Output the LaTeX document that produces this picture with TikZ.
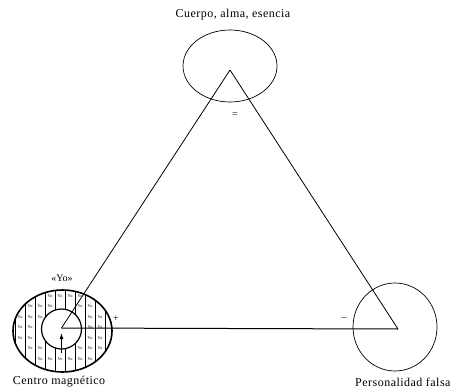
\documentclass[tikz,border=0pt]{standalone}
\usepackage{fontspec}
\setmainfont{Liberation Serif}
\newfontfamily\labfont[LetterSpace=4]{Liberation Serif}
\usetikzlibrary{arrows.meta,shapes.geometric}
\begin{document}
\begin{tikzpicture}[x=1pt,y=-1pt,
  lab/.style={font=\labfont\fontsize{12}{13}\selectfont, inner sep=0pt},
  sign/.style={font=\fontsize{10}{11}\selectfont, inner sep=0pt},
  yo/.style={font=\fontsize{4.2}{5}\selectfont, inner sep=0pt},
  ring/.style={draw, ellipse, line width=0.7pt, inner sep=0pt},
  edge/.style={line width=0.8pt}]
\useasboundingbox (0,0) rectangle (454,390);
% circles of the three vertices
\node[ring, minimum width=94pt, minimum height=72pt] (body) at (230,66) {};
\node[ring, minimum width=84pt, minimum height=88pt] (false) at (395,327) {};
% magnetic centre: hatched ring of "Yo"
\begin{scope}
  \clip (62.5,331) ellipse [x radius=49.5, y radius=41];
  \foreach \k in {0,...,10} \draw[line width=0.5pt] (15+10*\k,280) -- (15+10*\k,380);
\end{scope}
\foreach \i in {0,...,9} {
  \foreach \j in {0,...,7} {
    \pgfmathsetmacro\xx{20+10*\i}
    \pgfmathsetmacro\yy{296+10.5*\j}
    \pgfmathtruncatemacro\ok{and(((\xx-62.5)/46)^2+((\yy-331)/38)^2<1,(\xx-61.5)^2+(\yy-329)^2>600)}
    \ifnum\ok=1 \node[yo] (yo-\i-\j) at (\xx,\yy) {Yo}; \fi
  }
}
\node[draw, ellipse, line width=1.6pt, minimum width=99pt, minimum height=82pt, inner sep=0pt] (outer) at (62.5,331) {};
\node[draw, circle, fill=white, line width=1.2pt, minimum size=40pt, inner sep=0pt] (inner) at (61.5,329) {};
% triangle
\coordinate (apex) at (230,70);
\coordinate (ctr) at (61.5,328);
\coordinate (right) at (398,329);
\draw[edge] (apex) -- (ctr);
\draw[edge, line width=1pt] (ctr) -- (right);
\draw[edge] (right) -- (apex);
% arrow to the centre
\coordinate (arrtail) at (61.5,353);
\coordinate (arrtip) at (61.5,333);
\draw[line width=1pt, -{Latex[length=6pt,width=4pt]}] (arrtail) -- (arrtip);
% labels
\node[lab] (l-body) at (233,15) {Cuerpo, alma, esencia};
\node[lab, font=\fontsize{10}{11}\selectfont] (l-yo) at (62,278) {«Yo»};
\node[lab] (l-centro) at (59,382) {Centro magnético};
\node[lab, anchor=west] (l-false) at (355,382) {Personalidad falsa};
\node[sign] (eq) at (235,115) {=};
\node[sign] (plus) at (116,319) {+};
\node[sign] (minus) at (344,319) {–};
\end{tikzpicture}
\end{document}
